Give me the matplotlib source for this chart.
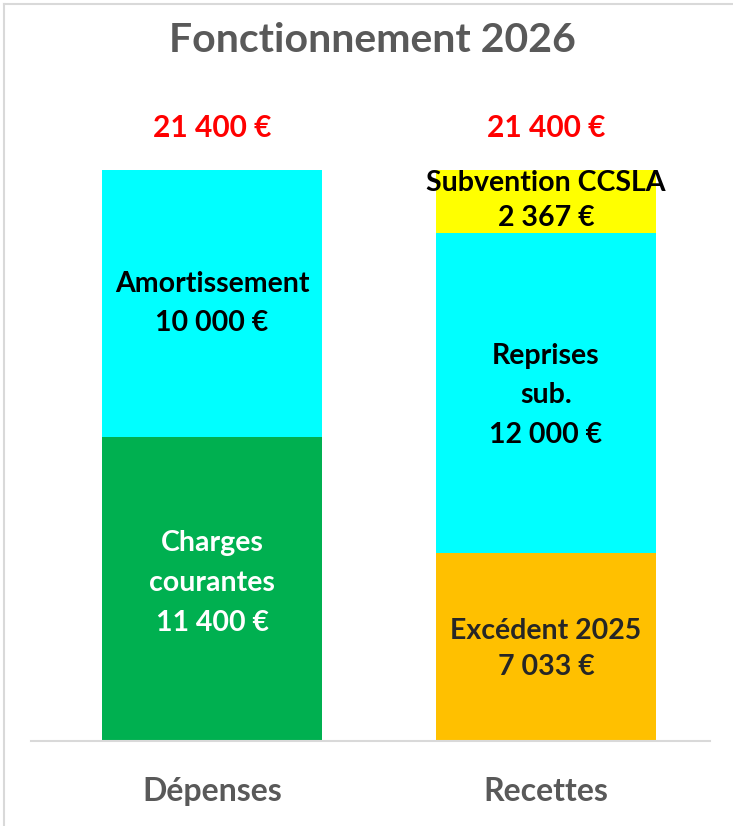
import matplotlib.pyplot as plt
from matplotlib.lines import Line2D

# data
categories = ["Dépenses", "Recettes"]
seg_cat = [0, 0, 1, 1, 1]
seg_values = [11400, 10000, 7033, 12000, 2367]
seg_colors = ["#00B050", "#00FFFF", "#FFC000", "#00FFFF", "#FFFF00"]
seg_labels = ["Charges\ncourantes\n11 400 €", "Amortissement\n10 000 €",
              "Excédent 2025\n7 033 €", "Reprises\nsub.\n12 000 €",
              "Subvention CCSLA\n2 367 €"]
seg_text_colors = ["white", "black", "#262626", "black", "black"]
totals = [21400, 21400]
total_labels = ["21 400 €", "21 400 €"]

W, H = 733, 826
fig = plt.figure(figsize=(W / 100, H / 100), dpi=100)
plt.rcParams["font.family"] = ["Lato", "DejaVu Sans"]

# axes placed in pixel coords: baseline y=741, x from 31 to 710
ax_left, ax_right = 31, 710
base_y, top_y = 741, 100
ax = fig.add_axes([ax_left / W, (H - base_y) / H, (ax_right - ax_left) / W, (base_y - top_y) / H])
px_per_unit = 334
ax.set_xlim((ax_left - 212) / px_per_unit, (ax_right - 212) / px_per_unit)
scale = 571 / 21400
ax.set_ylim(0, (base_y - top_y) / scale)

# small vertical nudges of the labels (px, up is positive)
nudge = [6, 0, -2, -2, 1]
spacing = [1.65, 1.65, 1.5, 1.65, 1.45]

bottoms = [0, 0]
bw = 220 / px_per_unit
for k in range(len(seg_values)):
    ci, val = seg_cat[k], seg_values[k]
    ax.bar(ci, val, bottom=bottoms[ci], width=bw, color=seg_colors[k], linewidth=0)
    ax.text(ci, bottoms[ci] + val / 2 + nudge[k] / scale, seg_labels[k],
            ha="center", va="center", fontsize=20.5, fontweight="bold",
            color=seg_text_colors[k], linespacing=spacing[k])
    bottoms[ci] += val

for i, t in enumerate(totals):
    ax.text(i, t + 1560, total_labels[i], ha="center", va="center",
            fontsize=21.5, fontweight="bold", color="#FF0000")

for s in ["top", "right", "left"]:
    ax.spines[s].set_visible(False)
ax.spines["bottom"].set_color("#D9D9D9")
ax.spines["bottom"].set_linewidth(1.5)
ax.set_yticks([])
ax.set_xticks([0, 1])
ax.set_xticklabels(categories, fontsize=23, fontweight="bold", color="#595959")
ax.tick_params(axis="x", length=0, pad=26)

fig.text(372 / W, 1 - 41 / H, "Fonctionnement 2026", ha="center", va="center",
         fontsize=29.5, fontweight="bold", color="#595959")

# frame of the chart area
fig.add_artist(Line2D([4 / W, 4 / W], [0, 1 - 4 / H], color="#D9D9D9", linewidth=1.5))
fig.add_artist(Line2D([4 / W, 1], [1 - 4 / H, 1 - 4 / H], color="#D9D9D9", linewidth=1.5))

fig.savefig("out.png", dpi=100)
